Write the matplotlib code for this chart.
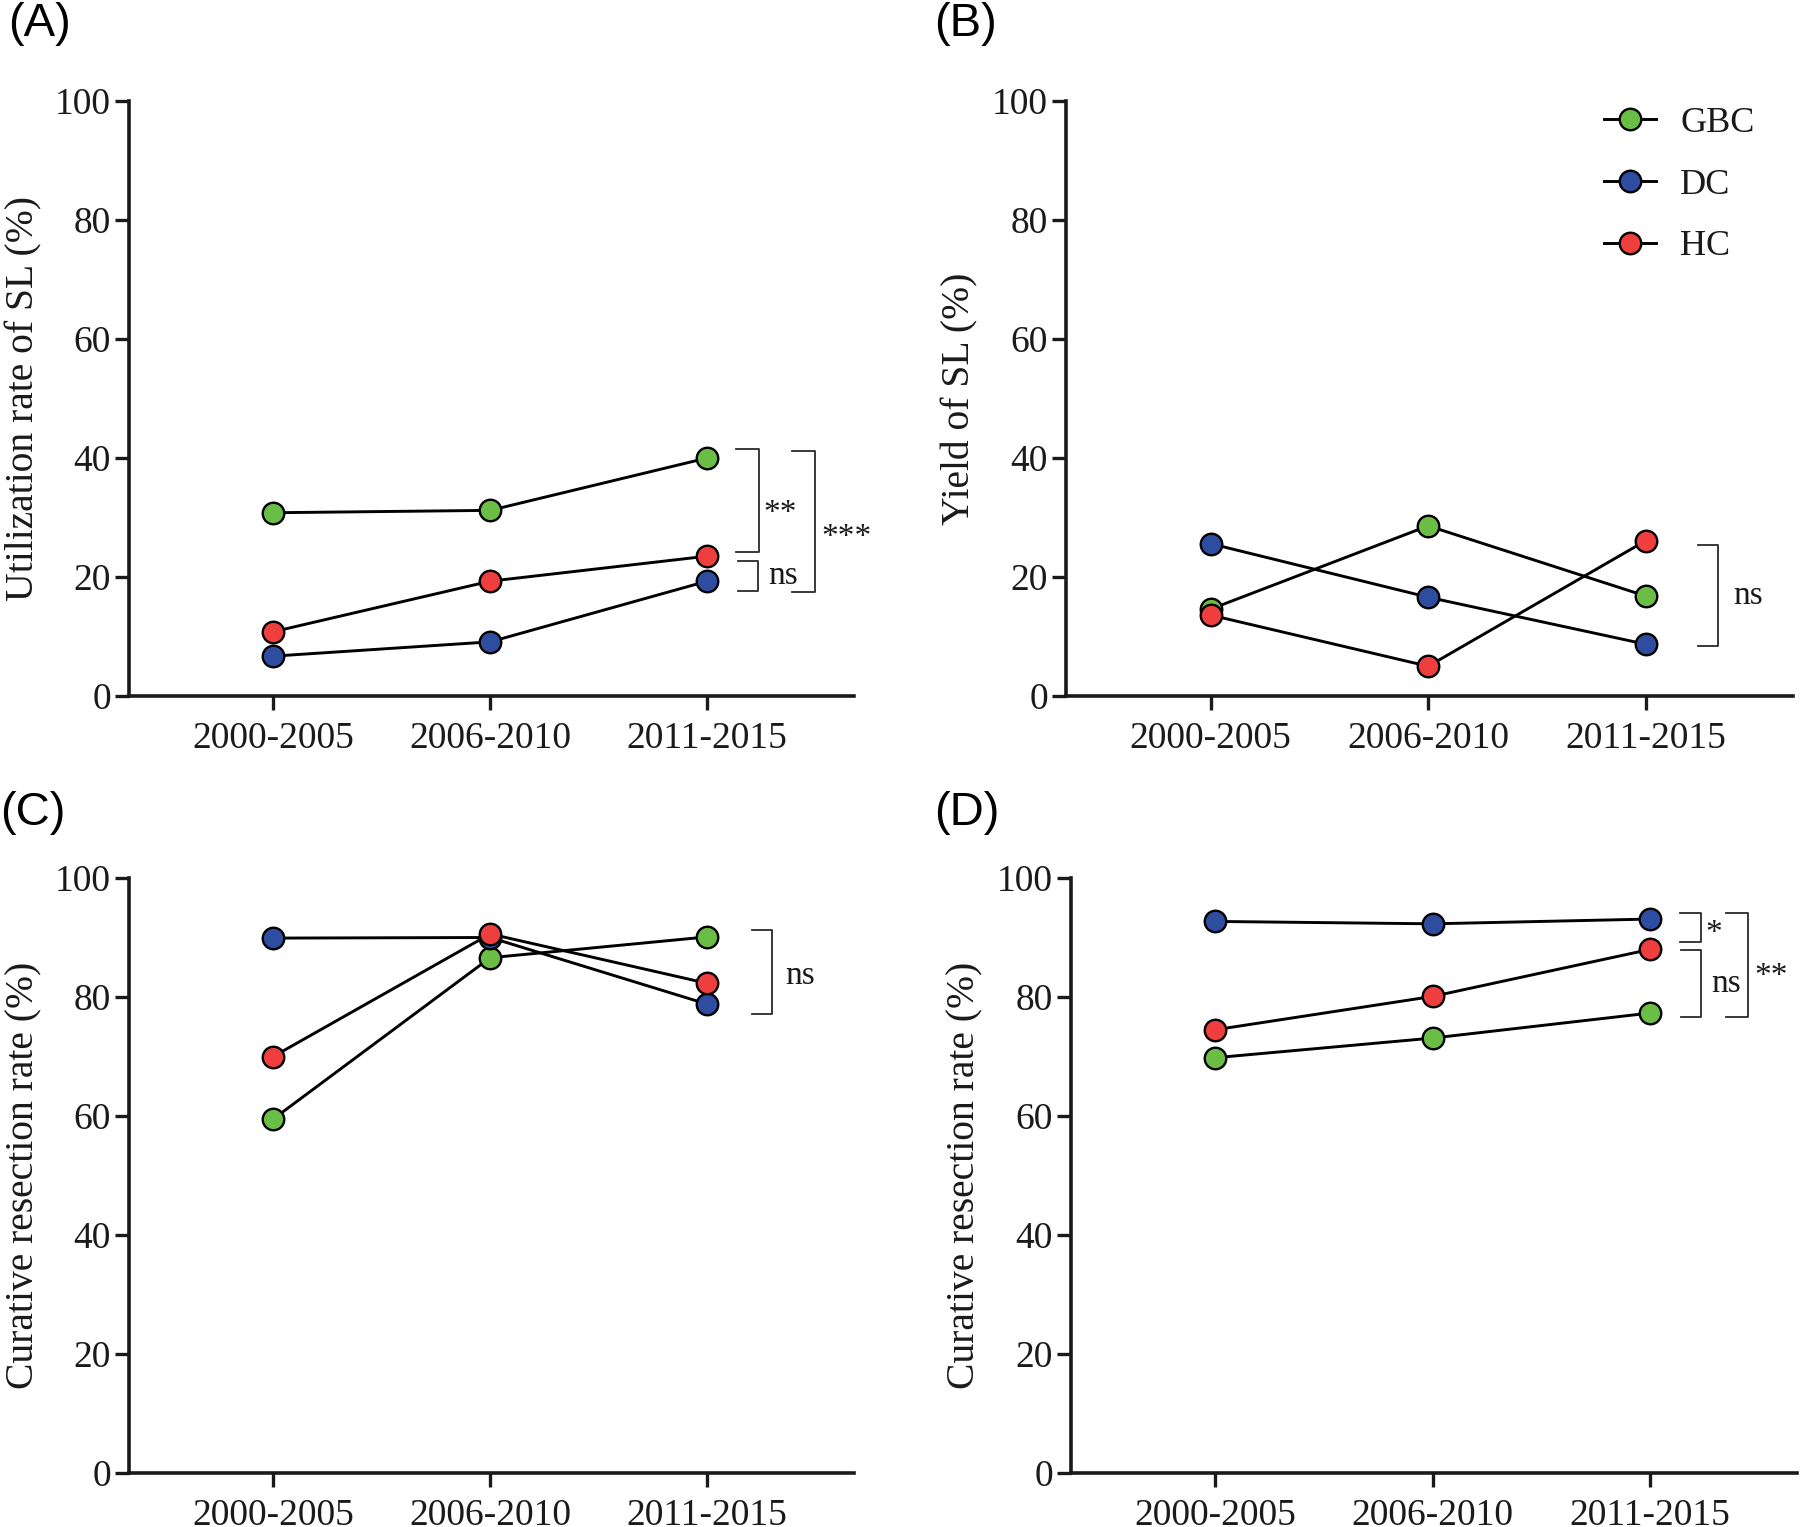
import matplotlib
matplotlib.use("Agg")
import matplotlib.pyplot as plt

# ---------------- data ----------------
periods = ["2000-2005", "2006-2010", "2011-2015"]
groups = ["GBC", "DC", "HC"]

util_gbc = [30.8, 31.2, 40.0]
util_dc = [6.7, 9.1, 19.3]
util_hc = [10.8, 19.3, 23.5]

yield_gbc = [14.6, 28.6, 16.8]
yield_dc = [25.6, 16.6, 8.7]
yield_hc = [13.6, 5.0, 26.1]

curC_gbc = [59.5, 86.6, 90.1]
curC_dc = [89.9, 90.0, 78.8]
curC_hc = [70.0, 90.6, 82.3]

curD_gbc = [69.8, 73.1, 77.3]
curD_dc = [92.7, 92.3, 93.1]
curD_hc = [74.5, 80.1, 88.0]

yticks = [0, 20, 40, 60, 80, 100]

# significance annotations: (x_left, x_right, y_top, y_bottom, label, x_text, y_text)
sig_A = [(2.132, 2.24, 41.5, 24.25, "**", 2.336, 30.6),
         (2.143, 2.234, 22.7, 17.7, "ns", 2.35, 20.25),
         (2.39, 2.498, 41.2, 17.5, "***", 2.643, 26.6)]
sig_B = [(2.24, 2.33, 25.4, 8.4, "ns", 2.47, 16.8)]
sig_C = [(2.207, 2.297, 91.3, 77.1, "ns", 2.43, 83.5)]
sig_D = [(2.138, 2.234, 94.2, 89.3, "*", 2.295, 90.7),
         (2.143, 2.234, 87.85, 76.6, "ns", 2.349, 82.3),
         (2.35, 2.453, 94.2, 76.6, "**", 2.556, 83.4)]

colors = {"GBC": "#6BBE45", "DC": "#2E4DA0", "HC": "#EE3E3E"}

SERIF = ["Liberation Serif", "DejaVu Serif"]
SANS = ["Liberation Sans", "DejaVu Sans"]
plt.rcParams["font.family"] = SERIF

fig = plt.figure(figsize=(18, 15.27), dpi=100)

W, H = 1800.0, 1527.0
def rect(l, r, t, b):
    return [l / W, 1 - b / H, (r - l) / W, (b - t) / H]

panels = [
    ("(A)", rect(129, 854, 101, 696), "Utilization rate of SL (%)",
     [util_gbc, util_dc, util_hc], sig_A, (8, 2)),
    ("(B)", rect(1066, 1793, 101, 696), "Yield of SL (%)",
     [yield_gbc, yield_dc, yield_hc], sig_B, (934, 2)),
    ("(C)", rect(129, 854, 878, 1473), "Curative resection rate (%)",
     [curC_gbc, curC_dc, curC_hc], sig_C, (0, 791)),
    ("(D)", rect(1071, 1797, 878, 1473), "Curative resection rate (%)",
     [curD_gbc, curD_dc, curD_hc], sig_D, (934, 791)),
]

xpos = list(range(len(periods)))
for tag, r, ylab, series, sigs, (lx, ly) in panels:
    ax = fig.add_axes(r)
    for g, vals in zip(groups, series):
        ax.plot(xpos, vals, color="black", lw=2.1, marker="o", ms=15.5,
                mfc=colors[g], mec="black", mew=1.7, label=g, zorder=3,
                clip_on=False)
    ax.set_xlim(-0.665, 2.677)
    ax.set_ylim(0, 100)
    ax.set_yticks(yticks)
    ax.set_xticks(xpos)
    ax.set_xticklabels(periods)
    for s in ["top", "right"]:
        ax.spines[s].set_visible(False)
    for s in ["left", "bottom"]:
        ax.spines[s].set_linewidth(2.6)
        ax.spines[s].set_color("#1a1a1a")
    ax.tick_params(axis="both", direction="out", length=10, width=2.4,
                   color="#1a1a1a", labelsize=27, labelcolor="#1a1a1a")
    ax.tick_params(axis="y", pad=3)
    ax.tick_params(axis="x", pad=8.5)
    ax.set_ylabel(ylab, fontsize=28.5, color="#1a1a1a")
    ax.yaxis.set_label_coords(-87 / 725.0, 0.5)

    for xl, xr, yt, yb, txt, xt, yt_ in sigs:
        ax.plot([xl, xr, xr, xl], [yt, yt, yb, yb], color="#2a2a2a", lw=1.3,
                clip_on=False, zorder=2)
        ax.text(xt, yt_, txt, ha="center", va="center", fontsize=24,
                color="#1a1a1a", clip_on=False)

    fig.text(lx / W, 1 - ly / H, tag, ha="left", va="top", fontsize=34,
             family=SANS, color="black")

    if tag == "(B)":
        leg = ax.legend(loc="center left", bbox_to_anchor=(0.740, 0.859),
                        frameon=False, borderpad=0, borderaxespad=0,
                        handlelength=1.45, handletextpad=0.66,
                        labelspacing=0.79, prop={"size": 26})
        for t in leg.get_texts():
            t.set_color("#1a1a1a")

fig.savefig("out.png", dpi=100)
